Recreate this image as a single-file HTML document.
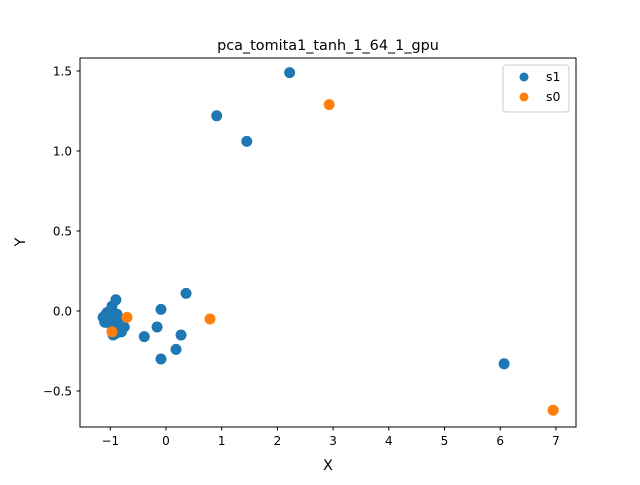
<!DOCTYPE html>
<html><head><meta charset="utf-8"><style>
body{margin:0;background:#fff}
svg text{font-family:"DejaVu Sans","Liberation Sans",sans-serif;fill:#000}
</style></head><body>
<svg id="chart" width="640" height="480" viewBox="0 0 640 480">
<rect width="640" height="480" fill="#fff"/>
<text x="328" y="50" font-size="14.4" text-anchor="middle">pca_tomita1_tanh_1_64_1_gpu</text>
<g id="ticks"></g>
<g id="points"></g>
<rect x="80" y="58" width="496" height="369" fill="none" stroke="#000" stroke-width="1"/>
<text x="328" y="470" font-size="14.5" text-anchor="middle">X</text>
<text x="25" y="242" font-size="14.5" text-anchor="middle" transform="rotate(-90 25 242)">Y</text>
<g>
<rect x="503" y="65" width="66" height="47" rx="3" fill="#fff" stroke="#ccc"/>
<circle cx="524" cy="77" r="4.5" fill="#1f77b4"/>
<text x="546" y="81" font-size="12.5">s1</text>
<circle cx="524" cy="97" r="4.5" fill="#ff7f0e"/>
<text x="546" y="101" font-size="12.5">s0</text>
</g>
</svg>
<script>
const xTicks=[-1,0,1,2,3,4,5,6,7];
const yTicks=[-0.5,0,0.5,1.0,1.5];
const yTickLabels=["−0.5","0.0","0.5","1.0","1.5"];
const s1X=[-0.9,-0.97,-1.06,-1.13,-1.1,-0.86,-0.75,-0.95,-0.09,0.36,-0.16,-0.39,0.27,0.18,-0.09,0.91,1.45,2.22,6.07,-1.1,-1.05,-1.0,-0.95,-0.9,-0.85,-1.0,-0.92,-0.88,-0.8];
const s1Y=[0.07,0.03,-0.01,-0.04,-0.07,-0.07,-0.1,-0.15,0.01,0.11,-0.1,-0.16,-0.15,-0.24,-0.3,1.22,1.06,1.49,-0.33,-0.03,-0.05,0.0,-0.12,-0.14,-0.1,-0.08,-0.05,-0.02,-0.13];
const s0X=[-0.7,-0.97,0.79,2.93,6.95];
const s0Y=[-0.04,-0.13,-0.05,1.29,-0.62];
const NS="http://www.w3.org/2000/svg";
function xs(v){return 166+v*55.7;}
function ys(v){return 311-v*160;}
const tg=document.getElementById('ticks');
function mk(tag,attrs,parent){const e=document.createElementNS(NS,tag);for(const k in attrs)e.setAttribute(k,attrs[k]);parent.appendChild(e);return e;}
xTicks.forEach(t=>{
  const l=mk('line',{x1:xs(t),x2:xs(t),y1:427,y2:430.5,stroke:'#000'},tg);
  
  
  const tx=mk('text',{x:xs(t),y:445,'font-size':12,'text-anchor':'middle'},tg);
  tx.textContent=t<0?'−'+Math.abs(t):String(t);
  
  
});
yTicks.forEach((t,i)=>{
  const l=mk('line',{x1:76.5,x2:80,y1:ys(t),y2:ys(t),stroke:'#000'},tg);
  
  
  const tx=mk('text',{x:72,y:ys(t)+4.5,'font-size':12,'text-anchor':'end'},tg);
  tx.textContent=yTickLabels[i];
  
  
});
const pg=document.getElementById('points');
s1X.forEach((x,i)=>{
  const c=mk('circle',{cx:xs(x),cy:ys(s1Y[i]),r:5.5,fill:'#1f77b4'},pg);
  
  
});
s0X.forEach((x,i)=>{
  const c=mk('circle',{cx:xs(x),cy:ys(s0Y[i]),r:5.5,fill:'#ff7f0e'},pg);
  
  
});
</script>
</body></html>
